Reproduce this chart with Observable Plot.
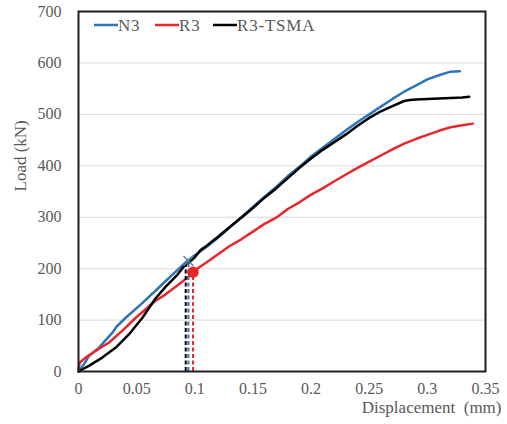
<!DOCTYPE html>
<html>
<head>
<meta charset="utf-8">
<script src="https://cdn.jsdelivr.net/npm/d3@7"></script>
<script src="https://cdn.jsdelivr.net/npm/@observablehq/plot@0.6"></script>
<style>
  html, body { margin: 0; padding: 0; background: #fff; }
  #chart { position: relative; width: 507px; height: 424px; }
  #chart svg, #chart svg g, #chart svg text { font-family: "Liberation Serif", "Times New Roman", serif !important; }
</style>
</head>
<body>
<div id="chart"></div>
<script>
// ---- data ----
const xTicks = [0, 0.05, 0.1, 0.15, 0.2, 0.25, 0.3, 0.35];
const yTicks = [0, 100, 200, 300, 400, 500, 600, 700];
const seriesNames = ["N3", "R3", "R3-TSMA"];
const seriesColors = ["#2e75b6", "#e8272b", "#000000"];

const n3X = [0, 0.004, 0.009, 0.0175, 0.023, 0.029, 0.033, 0.0404, 0.0548, 0.0662, 0.075, 0.085, 0.093, 0.1, 0.11, 0.12, 0.13, 0.14, 0.15, 0.16, 0.17, 0.18, 0.19, 0.2, 0.21, 0.22, 0.23, 0.24, 0.25, 0.26, 0.27, 0.28, 0.29, 0.3, 0.31, 0.32, 0.328];
const n3Y = [0, 12, 30, 46, 60, 75, 88, 104, 133, 157, 176, 197, 214, 226, 242, 260, 280, 300, 320, 340, 359, 380, 398, 418, 435, 452, 469, 485, 500, 515, 530, 544, 556, 568, 576, 583, 584];

const r3X = [0, 0.001, 0.006, 0.0146, 0.026, 0.0376, 0.049, 0.066, 0.075, 0.0906, 0.0978, 0.1, 0.11, 0.12, 0.13, 0.14, 0.15, 0.16, 0.17, 0.18, 0.19, 0.2, 0.21, 0.22, 0.23, 0.24, 0.25, 0.26, 0.27, 0.28, 0.29, 0.3, 0.31, 0.32, 0.33, 0.339];
const r3Y = [5, 17, 27, 40, 56, 79, 104, 137, 150, 177, 190, 197, 212, 228, 244, 257, 272, 287, 299, 316, 329, 344, 356, 370, 383, 396, 408, 420, 432, 443, 452, 460, 468, 475, 479, 482];

const tsmaX = [0, 0.0089, 0.0204, 0.0318, 0.0433, 0.0548, 0.0662, 0.075, 0.085, 0.092, 0.095, 0.1, 0.105, 0.11, 0.12, 0.13, 0.14, 0.15, 0.16, 0.17, 0.18, 0.19, 0.2, 0.21, 0.22, 0.23, 0.24, 0.25, 0.26, 0.27, 0.28, 0.285, 0.29, 0.3, 0.31, 0.32, 0.33, 0.336];
const tsmaY = [0, 11, 27, 46, 72, 104, 142, 165, 188, 208, 212, 222, 236, 244, 262, 281, 299, 318, 338, 356, 376, 396, 414, 431, 446, 461, 478, 493, 506, 516, 526, 528, 529, 530, 531, 532, 533, 534];

// yield markers
const yieldNames = ["R3-TSMA", "N3", "R3"];
const yieldX = [0.0922, 0.0945, 0.0985];
const yieldY = [209, 215, 193];
const yieldColors = ["#000000", "#2e75b6", "#e8272b"];

// ---- build tables ----
const toRows = (name, xs, ys) => xs.map((x, i) => ({series: name, x, y: ys[i]}));
const lineData = [
  ...toRows("N3", n3X, n3Y),
  ...toRows("R3", r3X, r3Y),
  ...toRows("R3-TSMA", tsmaX, tsmaY)
];
const yieldData = yieldNames.map((s, i) => ({series: s, x: yieldX[i], y: yieldY[i], c: yieldColors[i]}));

const serif = "'Liberation Serif', 'Times New Roman', serif";

const chart = Plot.plot({
  width: 507,
  height: 424,
  marginLeft: 78,
  marginRight: 22,
  marginTop: 11,
  marginBottom: 53,
  style: {fontFamily: serif, fontSize: "16px", color: "#595959", background: "#fff", overflow: "visible"},
  x: {domain: [0, 0.35], ticks: xTicks, tickFormat: d => d3.format("~g")(d), tickSize: 0, tickPadding: 11, label: null},
  y: {domain: [0, 700], ticks: yTicks, tickSize: 0, tickPadding: 17, label: null},
  color: {domain: seriesNames, range: seriesColors},
  marks: [
    Plot.ruleY(yTicks.filter(d => d > 0 && d < 700), {stroke: "#d9d9d9", strokeWidth: 1}),
    Plot.line(lineData, {x: "x", y: "y", z: "series", stroke: "series", strokeWidth: 2.5, curve: "linear"}),
    Plot.ruleX(yieldData, {x: "x", y1: 0, y2: "y", stroke: "c", strokeWidth: 2, strokeDasharray: "4,2.5"}),
    Plot.dot(yieldData.filter(d => d.series === "N3"), {x: "x", y: "y", symbol: "times", r: 4.5, stroke: "#5a7fa8", strokeWidth: 1.5}),
    Plot.dot(yieldData.filter(d => d.series === "R3"), {x: "x", y: "y", r: 5, fill: "#e8272b", stroke: "#e8272b"}),
    Plot.frame({stroke: "#1f1f1f", strokeWidth: 2}),
    Plot.text(["Displacement  (mm)"], {frameAnchor: "bottom-right", dx: 16, dy: 41, textAnchor: "end", fill: "#595959", fontSize: 17}),
    Plot.text(["Load (kN)"], {frameAnchor: "left", dx: -58, dy: 0, rotate: -90, fill: "#595959", fontSize: 17})
  ]
});

document.getElementById("chart").appendChild(chart);

const svg = d3.select(chart);
svg.attr("font-family", serif).attr("font-size", 16);
svg.selectAll("g").attr("font-family", null);
svg.selectAll("text").each(function() {
  const big = this.textContent === "Displacement  (mm)" || this.textContent === "Load (kN)";
  this.setAttribute("font-family", serif);
  this.setAttribute("font-size", big ? 17 : 16);
  this.style.setProperty("font-family", serif, "important");
  this.style.setProperty("font-size", big ? "17px" : "16px", "important");
});

// legend inside the plot area (top)
const legendX = [94, 155, 213];
const lg = svg.append("g").attr("fill", "#595959").attr("text-anchor", "start");
seriesNames.forEach((name, i) => {
  lg.append("line").attr("x1", legendX[i]).attr("x2", legendX[i] + 24).attr("y1", 25).attr("y2", 25)
    .attr("stroke", seriesColors[i]).attr("stroke-width", 2.5);
  lg.append("text").attr("x", legendX[i] + 24).attr("y", 25).attr("dy", "0.35em")
    .attr("text-anchor", "start")
    .style("font-family", serif)
    .style("font-size", "17px")
    .style("letter-spacing", "0.8px")
    .text(name);
});
</script>
</body>
</html>
